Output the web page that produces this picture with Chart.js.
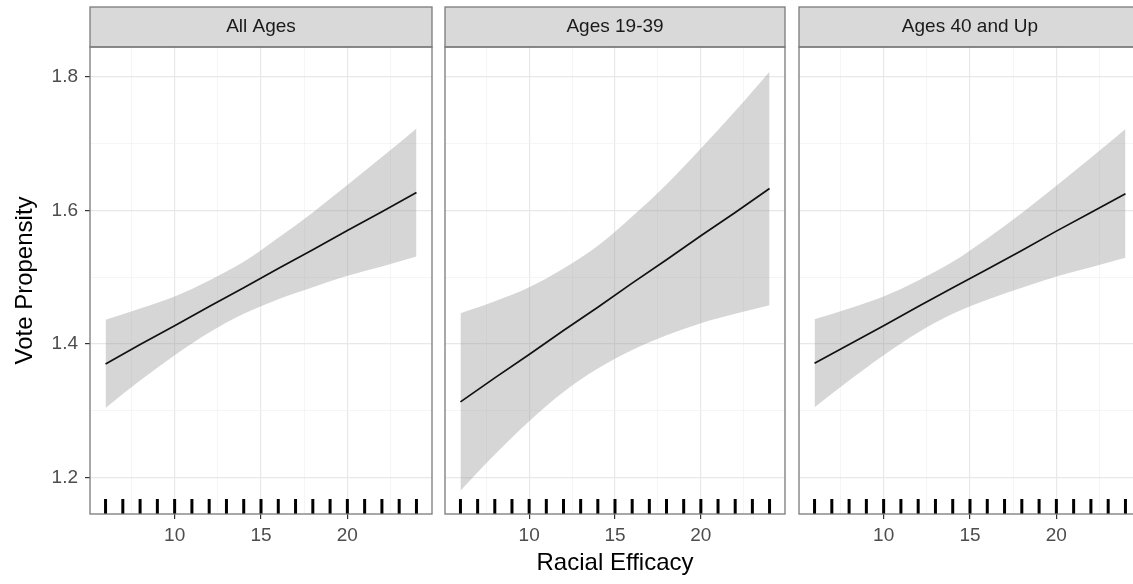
<!DOCTYPE html>
<html>
<head>
<meta charset="utf-8">
<script src="https://cdn.jsdelivr.net/npm/chart.js@4.4.1/dist/chart.umd.min.js"></script>
<style>
  html, body { margin: 0; padding: 0; background: #fff; overflow: hidden; }
  canvas { position: absolute; top: 0; }
</style>
</head>
<body>
<canvas id="p1" width="440" height="584" style="left:0px"></canvas>
<canvas id="p2" width="350" height="584" style="left:440px"></canvas>
<canvas id="p3" width="360" height="584" style="left:790px"></canvas>
<script>
var xValues = [6, 8, 10, 12, 14, 16, 18, 20, 22, 24];
var panelTitles = ["All Ages", "Ages 19-39", "Ages 40 and Up"];

var fitAll   = [1.370, 1.399, 1.427, 1.456, 1.484, 1.513, 1.541, 1.570, 1.598, 1.627];
var upperAll = [1.436, 1.453, 1.471, 1.495, 1.523, 1.559, 1.597, 1.638, 1.680, 1.723];
var lowerAll = [1.304, 1.345, 1.383, 1.417, 1.445, 1.467, 1.485, 1.502, 1.516, 1.531];

var fitYoung   = [1.313, 1.349, 1.384, 1.420, 1.455, 1.491, 1.526, 1.562, 1.597, 1.633];
var upperYoung = [1.446, 1.464, 1.485, 1.513, 1.547, 1.591, 1.639, 1.693, 1.749, 1.808];
var lowerYoung = [1.180, 1.234, 1.284, 1.328, 1.363, 1.391, 1.413, 1.431, 1.445, 1.458];

var fitOld   = [1.371, 1.399, 1.427, 1.456, 1.484, 1.512, 1.540, 1.569, 1.597, 1.625];
var upperOld = [1.437, 1.453, 1.471, 1.495, 1.523, 1.558, 1.596, 1.637, 1.679, 1.722];
var lowerOld = [1.305, 1.345, 1.383, 1.417, 1.445, 1.466, 1.484, 1.501, 1.515, 1.529];

var rugValues = [6, 7, 8, 9, 10, 11, 12, 13, 14, 15, 16, 17, 18, 19, 20, 21, 22, 23, 24];

var xMajorTicks = [10, 15, 20];
var xMinorTicks = [7.5, 12.5, 17.5, 22.5];
var yMajorTicks = [1.2, 1.4, 1.6, 1.8];
var yMinorTicks = [1.3, 1.5, 1.7];

var xMin = 5.1, xMax = 24.9;
var yMin = 1.145, yMax = 1.845;

var FONT = "'Liberation Sans', Arial, Helvetica, sans-serif";

function pts(xs, ys) {
    return xs.map(function(x, i) { return {x: x, y: ys[i]}; });
}

function isMinor(list, v) {
    return list.some(function(m) { return Math.abs(m - v) < 1e-6; });
}

// strip on top + full panel border, like facet_wrap in theme_bw
var facetPlugin = {
    id: "facet",
    afterDraw: function(chart, args, opts) {
        var a = chart.chartArea, c = chart.ctx;
        c.save();
        c.fillStyle = "#d9d9d9";
        c.fillRect(a.left, a.top - 40, a.right - a.left, 40);
        c.strokeStyle = "#7a7a7a";
        c.lineWidth = 1.3;
        c.strokeRect(a.left, a.top - 40, a.right - a.left, 40);
        c.strokeRect(a.left, a.top, a.right - a.left, a.bottom - a.top);
        c.fillStyle = "#1a1a1a";
        c.font = "19px " + FONT;
        c.textAlign = "center";
        c.textBaseline = "middle";
        c.fillText(opts.title, (a.left + a.right) / 2, a.top - 20);
        c.restore();
    }
};

function makePanel(id, title, fit, upper, lower, opt) {
    var ctx = document.getElementById(id);
    return new Chart(ctx, {
        type: "line",
        data: {
            datasets: [
                {data: pts(xValues, upper), fill: "+1", backgroundColor: "rgba(153,153,153,0.4)",
                 borderWidth: 0, pointRadius: 0, cubicInterpolationMode: "monotone", order: 3},
                {data: pts(xValues, lower), fill: false, borderWidth: 0, pointRadius: 0,
                 cubicInterpolationMode: "monotone", order: 3},
                {data: pts(xValues, fit), fill: false, borderColor: "#111", borderWidth: 1.7,
                 pointRadius: 0, order: 1},
                {data: rugValues.map(function(v) { return {x: v, y: yMin}; }), showLine: false,
                 pointStyle: "line", rotation: 90, pointRadius: 15, pointBorderWidth: 3,
                 pointBorderColor: "#000", borderColor: "#000", clip: 0, order: 0}
            ]
        },
        options: {
            responsive: false,
            animation: false,
            layout: {autoPadding: false, padding: {top: 47, bottom: 0, left: opt.padLeft, right: opt.padRight}},
            plugins: {
                legend: {display: false},
                tooltip: {enabled: false},
                facet: {title: title}
            },
            scales: {
                x: {
                    type: "linear", min: xMin, max: xMax,
                    afterBuildTicks: function(s) {
                        s.ticks = xMinorTicks.concat(xMajorTicks).sort(function(a, b) { return a - b; })
                            .map(function(v) { return {value: v}; });
                    },
                    afterFit: function(s) { s.height = 70; s.paddingLeft = 0; s.paddingRight = 0; },
                    border: {display: false},
                    grid: {
                        color: function(c) { return isMinor(xMinorTicks, c.tick.value) ? "#f2f2f2" : "#e8e8e8"; },
                        lineWidth: function(c) { return isMinor(xMinorTicks, c.tick.value) ? 0.8 : 1.2; },
                        tickColor: function(c) { return isMinor(xMinorTicks, c.tick.value) ? "rgba(0,0,0,0)" : "#333"; },
                        tickLength: 5, tickWidth: 1.2
                    },
                    ticks: {
                        autoSkip: false, maxRotation: 0, padding: 5, color: "#4d4d4d",
                        font: {family: FONT, size: 19},
                        callback: function(v) { return isMinor(xMinorTicks, v) ? "" : String(v); }
                    },
                    title: {
                        display: opt.xTitle, text: "Racial Efficacy", color: "#000",
                        font: {family: FONT, size: 24}, padding: {top: 0, bottom: 6}
                    }
                },
                y: {
                    type: "linear", min: yMin, max: yMax,
                    afterBuildTicks: function(s) {
                        s.ticks = yMajorTicks.concat(yMinorTicks).sort(function(a, b) { return a - b; })
                            .map(function(v) { return {value: v}; });
                    },
                    afterFit: function(s) { s.width = opt.yWidth; s.paddingTop = 0; s.paddingBottom = 0; },
                    border: {display: false},
                    grid: {
                        color: function(c) { return isMinor(yMinorTicks, c.tick.value) ? "#f2f2f2" : "#e8e8e8"; },
                        lineWidth: function(c) { return isMinor(yMinorTicks, c.tick.value) ? 0.8 : 1.2; },
                        tickColor: function(c) { return isMinor(yMinorTicks, c.tick.value) ? "rgba(0,0,0,0)" : "#333"; },
                        drawTicks: opt.yLabels, tickLength: 5, tickWidth: 1.2
                    },
                    ticks: {
                        display: opt.yLabels, padding: 7, color: "#4d4d4d",
                        font: {family: FONT, size: 19},
                        callback: function(v) { return isMinor(yMinorTicks, v) ? "" : v.toFixed(1); }
                    },
                    title: {
                        display: opt.yLabels, text: "Vote Propensity", color: "#000",
                        font: {family: FONT, size: 24}, padding: {top: 11, bottom: 0}
                    }
                }
            }
        },
        plugins: [facetPlugin]
    });
}

makePanel("p1", panelTitles[0], fitAll, upperAll, lowerAll,
    {padLeft: 0, padRight: 8, yWidth: 90, yLabels: true, xTitle: false});
makePanel("p2", panelTitles[1], fitYoung, upperYoung, lowerYoung,
    {padLeft: 5, padRight: 5, yWidth: 0, yLabels: false, xTitle: true});
makePanel("p3", panelTitles[2], fitOld, upperOld, lowerOld,
    {padLeft: 9, padRight: 9, yWidth: 0, yLabels: false, xTitle: false});
</script>
</body>
</html>
